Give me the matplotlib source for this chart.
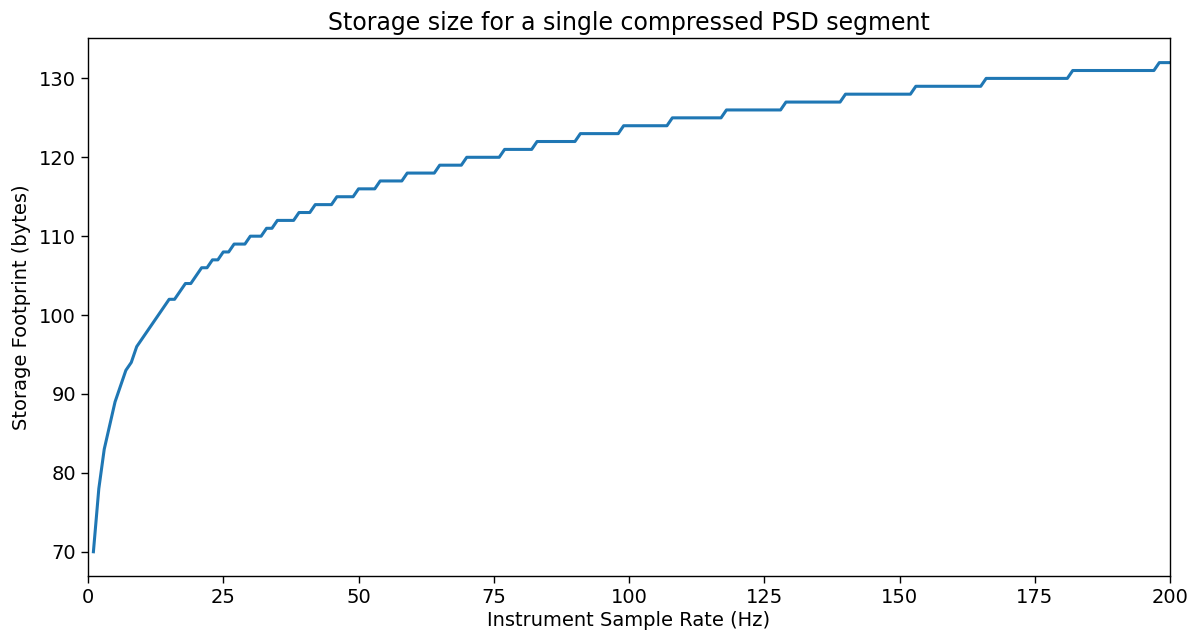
import numpy as np
import matplotlib
matplotlib.use('Agg')
import matplotlib.pyplot as plt

# sample rate (Hz), 1..200
sample_rate = list(range(1, 201))

# storage footprint in bytes
footprint = [
    70, 78, 83, 86, 89, 91, 93, 94, 96, 97,
    98, 99, 100, 101, 102, 102, 103, 104, 104, 105,
    106, 106, 107, 107, 108, 108, 109, 109, 109, 110,
    110, 110, 111, 111, 112, 112, 112, 112, 113, 113,
    113, 114, 114, 114, 114, 115, 115, 115, 115, 116,
    116, 116, 116, 117, 117, 117, 117, 117, 118, 118,
    118, 118, 118, 118, 119, 119, 119, 119, 119, 120,
    120, 120, 120, 120, 120, 120, 121, 121, 121, 121,
    121, 121, 122, 122, 122, 122, 122, 122, 122, 122,
    123, 123, 123, 123, 123, 123, 123, 123, 124, 124,
    124, 124, 124, 124, 124, 124, 124, 125, 125, 125,
    125, 125, 125, 125, 125, 125, 125, 126, 126, 126,
    126, 126, 126, 126, 126, 126, 126, 126, 127, 127,
    127, 127, 127, 127, 127, 127, 127, 127, 127, 128,
    128, 128, 128, 128, 128, 128, 128, 128, 128, 128,
    128, 128, 129, 129, 129, 129, 129, 129, 129, 129,
    129, 129, 129, 129, 129, 130, 130, 130, 130, 130,
    130, 130, 130, 130, 130, 130, 130, 130, 130, 130,
    130, 131, 131, 131, 131, 131, 131, 131, 131, 131,
    131, 131, 131, 131, 131, 131, 131, 132, 132, 132,
]

fig, ax = plt.subplots(figsize=(11.94, 6.36), dpi=100)
fig.subplots_adjust(left=0.0737, right=0.98, top=0.94, bottom=0.094)

ax.plot(sample_rate, footprint, color='#1f77b4', linewidth=2.2)
ax.set_xlim(0, 200)

ax.set_title('Storage size for a single compressed PSD segment', fontsize=17)
ax.set_xlabel('Instrument Sample Rate (Hz)', fontsize=14, labelpad=3)
ax.set_ylabel('Storage Footprint (bytes)', fontsize=14, labelpad=6)
ax.tick_params(labelsize=14, length=5, width=1)
for s in ax.spines.values():
    s.set_linewidth(1)

fig.savefig('out.png', dpi=100)
